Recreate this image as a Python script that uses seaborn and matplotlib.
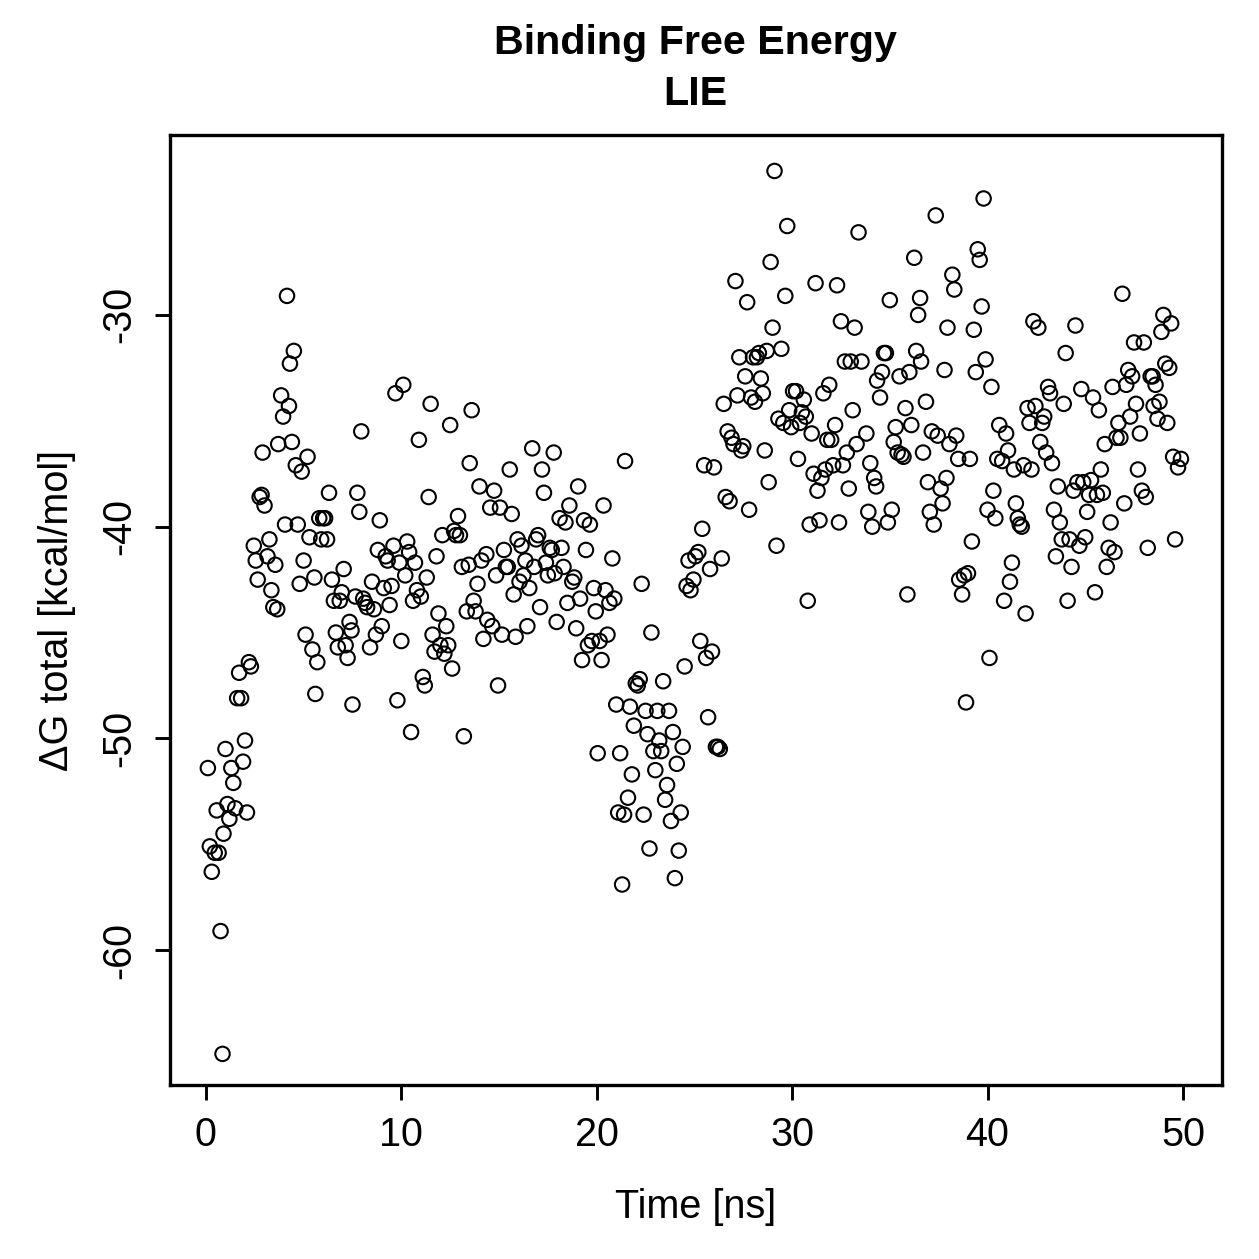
import pandas as pd
import seaborn as sns
import matplotlib.pyplot as plt

# Time [ns] and LIE binding free energy [kcal/mol]
time_ns = [
    0.1, 0.2, 0.3, 0.45, 0.55, 0.65, 0.75, 0.85, 0.9, 1.0, 1.1, 1.2, 1.3, 1.4, 1.5, 1.6, 1.7, 1.8, 1.9, 2.0,
    2.1, 2.2, 2.3, 2.45, 2.55, 2.65, 2.75, 2.85, 2.9, 3.0, 3.15, 3.25, 3.35, 3.45, 3.55, 3.65, 3.7, 3.85, 3.95, 4.05,
    4.15, 4.25, 4.3, 4.4, 4.5, 4.6, 4.7, 4.8, 4.9, 5.0, 5.1, 5.2, 5.3, 5.45, 5.55, 5.6, 5.7, 5.8, 5.9, 6.0,
    6.1, 6.2, 6.3, 6.45, 6.55, 6.65, 6.75, 6.85, 6.95, 7.05, 7.15, 7.25, 7.35, 7.45, 7.5, 7.65, 7.75, 7.85, 7.95, 8.05,
    8.15, 8.25, 8.4, 8.5, 8.6, 8.7, 8.8, 8.9, 9.0, 9.1, 9.2, 9.3, 9.4, 9.5, 9.6, 9.7, 9.8, 9.9, 10.0, 10.1,
    10.2, 10.3, 10.4, 10.5, 10.6, 10.7, 10.8, 10.9, 11.0, 11.1, 11.2, 11.3, 11.4, 11.5, 11.6, 11.7, 11.8, 11.9, 12.0, 12.1,
    12.2, 12.3, 12.4, 12.5, 12.6, 12.7, 12.8, 12.9, 13.0, 13.1, 13.2, 13.35, 13.45, 13.5, 13.6, 13.7, 13.8, 13.9, 14.0, 14.1,
    14.2, 14.35, 14.4, 14.55, 14.65, 14.75, 14.85, 14.95, 15.05, 15.15, 15.25, 15.35, 15.45, 15.55, 15.65, 15.75, 15.85, 15.95, 16.05, 16.15,
    16.25, 16.35, 16.45, 16.55, 16.7, 16.8, 16.9, 17.0, 17.1, 17.2, 17.3, 17.4, 17.5, 17.6, 17.7, 17.8, 17.85, 17.95, 18.1, 18.2,
    18.3, 18.4, 18.5, 18.6, 18.75, 18.85, 18.95, 19.05, 19.15, 19.25, 19.35, 19.45, 19.55, 19.65, 19.75, 19.85, 19.95, 20.05, 20.15, 20.25,
    20.35, 20.45, 20.55, 20.65, 20.8, 20.9, 21.0, 21.1, 21.2, 21.3, 21.4, 21.45, 21.6, 21.7, 21.8, 21.9, 22.0, 22.1, 22.2, 22.3,
    22.4, 22.5, 22.6, 22.7, 22.8, 22.9, 23.0, 23.1, 23.2, 23.3, 23.4, 23.5, 23.6, 23.7, 23.8, 23.9, 24.0, 24.1, 24.2, 24.3,
    24.4, 24.5, 24.6, 24.7, 24.8, 24.95, 25.05, 25.2, 25.3, 25.4, 25.5, 25.6, 25.7, 25.8, 25.9, 26.0, 26.1, 26.2, 26.3, 26.4,
    26.5, 26.6, 26.7, 26.8, 26.9, 27.0, 27.1, 27.2, 27.3, 27.4, 27.5, 27.6, 27.7, 27.8, 27.9, 28.0, 28.1, 28.2, 28.3, 28.4,
    28.5, 28.6, 28.7, 28.8, 28.9, 29.0, 29.1, 29.2, 29.3, 29.45, 29.55, 29.65, 29.75, 29.85, 29.95, 30.05, 30.2, 30.3, 30.4, 30.5,
    30.6, 30.7, 30.8, 30.9, 31.0, 31.1, 31.2, 31.3, 31.4, 31.5, 31.6, 31.7, 31.8, 31.9, 32.0, 32.1, 32.2, 32.3, 32.4, 32.5,
    32.6, 32.7, 32.8, 32.9, 33.0, 33.1, 33.2, 33.3, 33.4, 33.55, 33.8, 33.9, 34.0, 34.1, 34.2, 34.3, 34.35, 34.5, 34.6, 34.7,
    34.8, 34.9, 35.0, 35.1, 35.2, 35.3, 35.4, 35.5, 35.6, 35.7, 35.8, 35.9, 36.0, 36.1, 36.25, 36.35, 36.45, 36.55, 36.6, 36.7,
    36.85, 36.95, 37.05, 37.15, 37.25, 37.35, 37.45, 37.6, 37.7, 37.8, 37.9, 37.95, 38.05, 38.2, 38.3, 38.4, 38.5, 38.55, 38.7, 38.8,
    38.9, 39.0, 39.1, 39.2, 39.3, 39.4, 39.5, 39.6, 39.7, 39.8, 39.9, 40.0, 40.1, 40.2, 40.3, 40.4, 40.5, 40.6, 40.75, 40.85,
    40.95, 41.05, 41.15, 41.25, 41.35, 41.45, 41.55, 41.65, 41.75, 41.85, 41.95, 42.05, 42.15, 42.25, 42.35, 42.45, 42.6, 42.7, 42.8, 42.9,
    43.0, 43.1, 43.2, 43.3, 43.4, 43.5, 43.6, 43.7, 43.8, 43.9, 44.0, 44.1, 44.2, 44.3, 44.4, 44.5, 44.6, 44.7, 44.8, 44.9,
    45.0, 45.1, 45.2, 45.3, 45.4, 45.5, 45.6, 45.7, 45.8, 45.9, 46.0, 46.1, 46.2, 46.3, 46.4, 46.5, 46.6, 46.7, 46.8, 46.9,
    47.0, 47.1, 47.2, 47.3, 47.4, 47.5, 47.6, 47.7, 47.8, 47.9, 48.0, 48.1, 48.2, 48.35, 48.45, 48.5, 48.6, 48.7, 48.8, 48.9,
    49.0, 49.1, 49.2, 49.3, 49.4, 49.5, 49.6, 49.75, 49.9,
]

dg_total = [
    -51.4, -55.1, -56.3, -55.4, -53.4, -55.4, -59.1, -64.9, -54.5, -50.5, -53.1, -53.8, -51.4, -52.1, -53.3, -48.1, -46.9, -48.1, -51.1, -50.1,
    -53.5, -46.4, -46.6, -40.9, -41.6, -42.5, -38.6, -38.5, -36.5, -39.0, -41.4, -40.6, -43.0, -43.8, -41.8, -43.9, -36.1, -33.8, -34.8, -39.9,
    -29.1, -34.3, -32.3, -36.0, -31.7, -37.1, -39.9, -42.7, -37.4, -41.6, -45.1, -36.7, -40.5, -45.8, -42.4, -47.9, -46.4, -39.6, -40.6, -39.6,
    -39.6, -40.6, -38.4, -42.5, -43.5, -45.0, -45.7, -43.5, -43.1, -42.0, -45.6, -46.2, -44.5, -44.9, -48.4, -43.3, -38.4, -39.3, -35.5, -43.4,
    -43.6, -43.8, -45.7, -42.6, -43.9, -45.1, -41.1, -39.7, -44.7, -42.9, -41.4, -41.6, -43.7, -42.8, -40.9, -33.7, -48.2, -41.7, -45.4, -33.3,
    -42.3, -40.7, -41.2, -49.7, -43.5, -41.7, -43.0, -35.9, -43.3, -47.1, -47.5, -42.4, -38.6, -34.2, -45.1, -45.9, -41.4, -44.1, -45.6, -40.4,
    -46.0, -44.7, -45.6, -35.2, -46.7, -40.2, -40.4, -39.5, -40.4, -41.9, -49.9, -44.0, -41.8, -37.0, -34.5, -43.5, -44.0, -42.7, -38.1, -41.6,
    -45.3, -41.3, -44.4, -39.1, -44.7, -38.3, -42.3, -47.5, -39.1, -45.1, -41.1, -41.9, -41.9, -37.3, -39.4, -43.2, -45.2, -40.6, -42.6, -40.9,
    -42.3, -41.6, -44.7, -42.9, -36.3, -41.9, -40.6, -40.4, -43.8, -37.3, -38.4, -41.7, -42.3, -41.0, -41.1, -36.5, -42.2, -44.5, -39.6, -41.0,
    -41.9, -39.8, -43.6, -39.0, -42.6, -42.4, -44.8, -38.1, -43.4, -46.3, -39.7, -41.1, -45.6, -39.9, -45.4, -42.9, -44.0, -50.7, -45.4, -46.3,
    -39.0, -43.0, -45.1, -43.6, -41.5, -43.4, -48.4, -53.5, -50.7, -56.9, -53.6, -36.9, -52.8, -48.5, -51.7, -49.4, -47.4, -47.5, -47.2, -42.7,
    -53.6, -48.7, -49.8, -55.2, -45.0, -50.6, -51.5, -48.7, -50.1, -50.6, -47.3, -52.9, -52.2, -48.7, -53.9, -49.7, -56.6, -51.2, -55.3, -53.5,
    -50.4, -46.6, -42.8, -41.6, -43.0, -42.5, -41.4, -41.2, -45.4, -40.1, -37.1, -46.2, -49.0, -42.0, -45.9, -37.2, -50.4, -50.4, -50.5, -41.5,
    -34.2, -38.6, -35.5, -38.8, -35.8, -36.1, -28.4, -33.8, -32.0, -36.4, -36.2, -32.9, -29.4, -39.2, -33.9, -32.0, -34.1, -32.0, -31.8, -33.0,
    -33.7, -36.4, -31.7, -37.9, -27.5, -30.6, -23.2, -40.9, -34.9, -31.6, -35.1, -29.1, -25.8, -34.5, -35.3, -33.6, -33.6, -36.8, -35.1, -34.6,
    -34.0, -34.8, -43.5, -39.9, -35.6, -37.5, -28.5, -38.3, -39.7, -37.7, -33.7, -37.3, -35.9, -33.3, -35.9, -37.1, -35.2, -28.6, -39.8, -30.3,
    -37.1, -32.2, -36.5, -38.2, -32.2, -34.5, -30.6, -36.1, -26.1, -32.2, -35.6, -39.3, -37.0, -40.0, -37.7, -38.1, -33.1, -33.9, -32.7, -31.8,
    -31.8, -39.8, -29.3, -39.2, -36.0, -35.3, -36.5, -32.9, -36.6, -36.7, -34.4, -43.2, -32.7, -35.2, -27.3, -31.7, -30.0, -29.2, -32.2, -36.5,
    -34.1, -37.9, -39.3, -35.5, -39.9, -25.3, -35.7, -38.2, -38.9, -32.6, -37.7, -30.6, -36.1, -28.1, -28.8, -35.7, -36.8, -42.5, -43.2, -42.3,
    -48.3, -42.2, -36.8, -40.7, -30.7, -32.7, -26.9, -27.4, -29.6, -24.5, -32.1, -39.2, -46.2, -33.4, -38.3, -39.6, -36.8, -35.2, -36.9, -43.5,
    -35.6, -36.4, -42.6, -41.7, -37.3, -38.9, -39.6, -39.9, -40.0, -37.1, -44.1, -34.4, -35.1, -37.3, -30.3, -34.3, -30.6, -36.0, -35.1, -34.8,
    -36.5, -33.4, -33.7, -37.0, -39.2, -41.4, -38.1, -39.8, -40.6, -34.2, -31.8, -43.5, -40.6, -41.9, -38.3, -30.5, -37.9, -40.9, -33.5, -37.9,
    -40.5, -39.3, -38.5, -37.8, -33.9, -43.1, -38.5, -34.5, -37.3, -38.4, -36.1, -41.9, -41.0, -39.8, -33.4, -41.2, -35.8, -35.1, -35.8, -29.0,
    -38.9, -33.3, -32.6, -34.8, -32.9, -31.3, -34.2, -37.3, -35.6, -38.3, -31.3, -38.6, -41.0, -32.9, -32.9, -34.3, -33.3, -34.9, -34.1, -30.8,
    -30.0, -32.3, -35.1, -32.5, -30.4, -36.7, -40.6, -37.2, -36.8,
]

df = pd.DataFrame({"time": time_ns, "dg": dg_total})

plt.rcParams["font.family"] = ["Liberation Sans", "DejaVu Sans"]
plt.rcParams["axes.unicode_minus"] = False

fig = plt.figure(figsize=(1259 / 300, 1259 / 300), dpi=300)
ax = fig.add_axes([0.135, 0.1382, 0.8356, 0.7546])

sns.scatterplot(
    data=df,
    x="time",
    y="dg",
    ax=ax,
    marker="o",
    s=12,
    facecolors="none",
    edgecolors="black",
    linewidths=0.5,
    legend=False,
)

ax.set_xlim(-1.84, 52.0)
ax.set_ylim(-66.37, -21.5)
ax.set_xticks([0, 10, 20, 30, 40, 50])
ax.set_yticks([-60, -50, -40, -30])
ax.tick_params(axis="both", direction="out", length=3.5, width=0.7, labelsize=9.5, pad=4)
for lab in ax.get_yticklabels():
    lab.set_rotation(90)
    lab.set_va("center")
for side in ax.spines.values():
    side.set_linewidth(0.8)

ax.set_xlabel("Time [ns]", fontsize=9.5, labelpad=8)
ax.set_ylabel("\u0394G total [kcal/mol]", fontsize=9.5, labelpad=6)
fig.text(0.5525, 0.9655, "Binding Free Energy", ha="center", va="center",
         fontsize=9.9, fontweight="bold")
fig.text(0.5525, 0.925, "LIE", ha="center", va="center",
         fontsize=9.9, fontweight="bold")

plt.savefig("out.png", dpi=300)
